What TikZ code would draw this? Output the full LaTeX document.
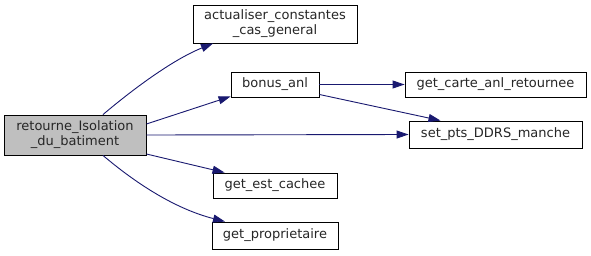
\documentclass[tikz,border=0pt]{standalone}
\usepackage{fontspec}
\setmainfont{DejaVu Sans}
\usetikzlibrary{arrows.meta}
\definecolor{edgeblue}{HTML}{191970}
\definecolor{rootgray}{HTML}{BFBFBF}
\begin{document}
\begin{tikzpicture}[x=1pt,y=-1pt,
  fn/.style={draw=black,line width=0.9pt,fill=white,inner sep=0pt,align=center,
    font=\fontsize{13}{15}\selectfont,text=black!85},
  root/.style={fn,fill=rootgray},
  call/.style={draw=edgeblue,line width=0.9pt,
    -{Triangle[length=12pt,width=8pt,fill=edgeblue]}}]
  \useasboundingbox (0,0) rectangle (591,255);
  \fill[white] (0,0) rectangle (591,255);

  % functions
  \node[root,minimum width=142pt,minimum height=40pt] (main) at (75,135)
    {retourne\_Isolation\\\_du\_batiment};
  \node[fn,minimum width=164pt,minimum height=38pt] (actu) at (275,24)
    {actualiser\_constantes\\\_cas\_general};
  \node[fn,minimum width=88pt,minimum height=25pt] (bonus) at (275,84.5)
    {bonus\_anl};
  \node[fn,minimum width=181pt,minimum height=25pt] (carte) at (495.5,84.5)
    {get\_carte\_anl\_retournee};
  \node[fn,minimum width=173pt,minimum height=27pt] (pts) at (495.5,134.5)
    {set\_pts\_DDRS\_manche};
  \node[fn,minimum width=124pt,minimum height=25pt] (cachee) at (275,185.5)
    {get\_est\_cachee};
  \node[fn,minimum width=126pt,minimum height=27pt] (prop) at (275,235.5)
    {get\_proprietaire};

  % calls
  \draw[call] ([xshift=28pt]main.north) .. controls (132,90) and (172,60) .. ([xshift=-62pt]actu.south);
  \draw[call] ([yshift=11pt]main.east) -- ([yshift=1pt]bonus.south west);
  \draw[call] (main.east) -- (pts.west);
  \draw[call] ([yshift=-19pt]main.east) -- ([xshift=12pt]cachee.north west);
  \draw[call] ([xshift=28pt]main.south) .. controls (132,180) and (172,208) .. ([xshift=-50pt]prop.north);
  \draw[call] (bonus.east) -- (carte.west);
  \draw[call] ([yshift=-10pt]bonus.east) -- ([xshift=-55pt]pts.north);
\end{tikzpicture}
\end{document}
